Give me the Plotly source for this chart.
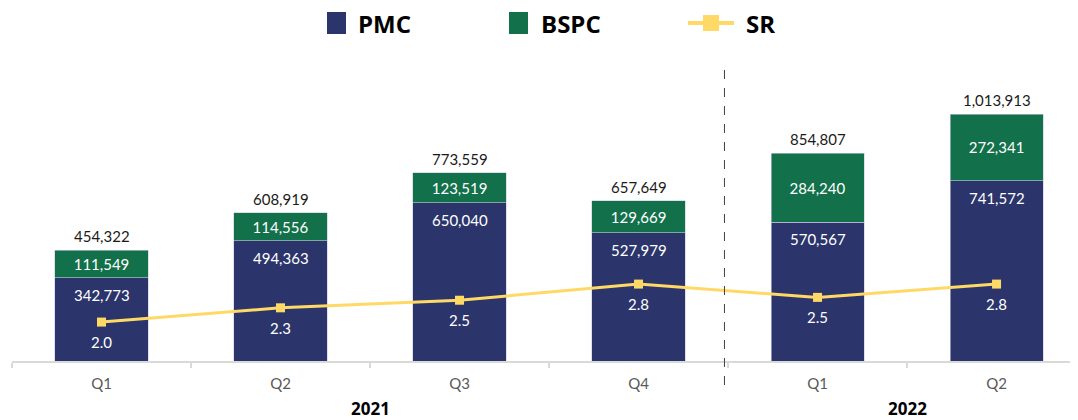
import plotly.graph_objects as go

quarters = ["Q1", "Q2", "Q3", "Q4", "Q1", "Q2"]
years = ["2021", "2022"]
pmc = [342773, 494363, 650040, 527979, 570567, 741572]
bspc = [111549, 114556, 123519, 129669, 284240, 272341]
totals = [454322, 608919, 773559, 657649, 854807, 1013913]
sr = [2.0, 2.3, 2.46, 2.8, 2.52, 2.8]

C_PMC = "#2b356b"
C_BSPC = "#12704a"
C_SR = "#ffd966"
FONT = "Lato"

xs = list(range(len(quarters)))

# page body has an 8px default margin; layout computed in screen pixels then offset
O = 8
SL, ST, W, H = 12, 69, 1066, 292          # plot area in screen pixels
FIG_W, FIG_H = 1078 - O, 420 - O
L, T = SL - O, ST - O


def px(x):
    return (x - SL) / W


def py(y):
    return (ST + H - y) / H


fig = go.Figure()
fig.add_trace(go.Bar(x=xs, y=pmc, name="PMC", marker=dict(color=C_PMC, line=dict(color="#c8cce0", width=0.6)),
                     width=0.52, showlegend=False, hoverinfo="y"))
fig.add_trace(go.Bar(x=xs, y=bspc, name="BSPC", marker=dict(color=C_BSPC, line=dict(color="#c8cce0", width=0.6)),
                     width=0.52, showlegend=False, hoverinfo="y",
                     text=[f"{v:,}" for v in bspc], textposition="inside", insidetextanchor="middle",
                     textfont=dict(color="white", size=15, family=FONT), textangle=0))
fig.add_trace(go.Scatter(x=xs, y=sr, name="SR", yaxis="y2", mode="lines+markers",
                         line=dict(color=C_SR, width=3), marker=dict(symbol="square", size=9, color=C_SR),
                         showlegend=False))

ann = []
for i in xs:
    ann.append(dict(x=i, y=totals[i], text=f"{totals[i]:,}", showarrow=False, yanchor="bottom", yshift=3,
                    font=dict(size=15, color="#1a1a1a", family=FONT)))
    ann.append(dict(x=i, y=pmc[i], text=f"{pmc[i]:,}", showarrow=False, yanchor="top", yshift=-6,
                    font=dict(size=15, color="white", family=FONT)))
    ann.append(dict(x=i, y=sr[i], yref="y2", text=f"{sr[i]:.1f}", showarrow=False, yanchor="middle", yshift=-20,
                    font=dict(size=15, color="white", family=FONT)))
for yr, xc in zip(years, [1.5, 4.5]):
    ann.append(dict(x=xc, y=py(408), yref="paper", text=f"<b>{yr}</b>", showarrow=False, yanchor="middle",
                    font=dict(size=17, color="#000000", family="Open Sans")))

shapes = []
shapes.append(dict(type="rect", xref="paper", yref="paper", x0=px(327), x1=px(346), y0=py(34), y1=py(12),
                   fillcolor=C_PMC, line=dict(width=0)))
shapes.append(dict(type="rect", xref="paper", yref="paper", x0=px(509), x1=px(528), y0=py(34), y1=py(12),
                   fillcolor=C_BSPC, line=dict(width=0)))
shapes.append(dict(type="line", xref="paper", yref="paper", x0=px(688), x1=px(734), y0=py(23), y1=py(23),
                   line=dict(color=C_SR, width=4)))
shapes.append(dict(type="rect", xref="paper", yref="paper", x0=px(703), x1=px(719), y0=py(31), y1=py(15),
                   fillcolor=C_SR, line=dict(width=0)))
for name, xl in [("PMC", 356), ("BSPC", 539), ("SR", 744)]:
    ann.append(dict(x=px(xl), y=py(23), xref="paper", yref="paper", xanchor="left", yanchor="middle",
                    text=f"<b>{name}</b>", showarrow=False, font=dict(size=24, color="#000000", family="Open Sans")))

# dashed divider between years
shapes.append(dict(type="line", xref="x", yref="paper", x0=3.48, x1=3.48, y0=py(385), y1=py(68),
                   line=dict(color="#404040", width=1, dash="dash")))

fig.update_layout(
    width=FIG_W, height=FIG_H, barmode="stack",
    margin=dict(l=L, r=0, t=T, b=FIG_H - T - H, autoexpand=False),
    plot_bgcolor="white", paper_bgcolor="white",
    font=dict(family=FONT),
    xaxis=dict(range=[-0.5, 5.455], tickmode="array", tickvals=xs, ticktext=quarters,
               tickfont=dict(size=15, color="#595959", family=FONT), showgrid=False, zeroline=False,
               showline=True, linecolor="#d9d9d9", linewidth=1.5, ticks="", ticklabelstandoff=8,
               minor=dict(tickmode="array", tickvals=[i - 0.5 for i in range(7)], ticks="outside",
                          ticklen=5, tickcolor="#d9d9d9", tickwidth=1.5, showgrid=False)),
    yaxis=dict(range=[0, 1200000], visible=False, showgrid=False),
    yaxis2=dict(range=[1.18, 7.33], overlaying="y", visible=False, showgrid=False),
    annotations=ann, shapes=shapes, showlegend=False,
)

fig.write_html("out.html")
